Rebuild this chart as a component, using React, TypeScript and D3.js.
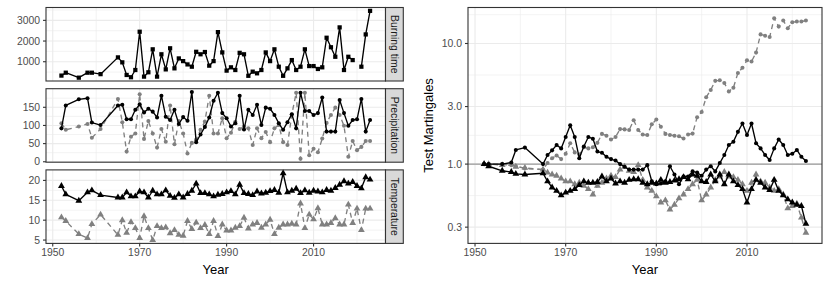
import * as d3 from "d3";

// observation years (early record is sparse)
const years = [
  1952, 1953, 1956, 1958, 1959, 1961, 1965, 1966, 1967, 1968, 1969,
  1970, 1971, 1972, 1973, 1974, 1975, 1976, 1977, 1978, 1979,
  1980, 1981, 1982, 1983, 1984, 1985, 1986, 1987, 1988, 1989,
  1990, 1991, 1992, 1993, 1994, 1995, 1996, 1997, 1998, 1999,
  2000, 2001, 2002, 2003, 2004, 2005, 2006, 2007, 2008, 2009,
  2010, 2011, 2012, 2013, 2014, 2015, 2016, 2017, 2018, 2019,
  2020, 2021, 2022, 2023,
];

const burningTime = [
  330, 470, 230, 470, 470, 400, 1210, 970, 360, 250, 600,
  2450, 280, 490, 1600, 280, 1360, 630, 1650, 680, 1160,
  1030, 870, 760, 1480, 1360, 1470, 810, 1030, 2430, 1450,
  570, 730, 600, 1430, 1360, 320, 520, 440, 600, 1450,
  1030, 1600, 760, 320, 680, 1080, 600, 760, 1600, 790,
  790, 650, 730, 2160, 1700, 1240, 2660, 600, 1240, 1080,
  null, 760, 2320, 3460,
];

const precipBlack = [
  92, 155, 172, 175, 108, 101, 155, 157, 117, 117, 143,
  158, 136, 146, 138, 122, 182, 124, 115, 143, 104,
  123, 113, 192, 54, 75, 96, 122, 168, 190, 134,
  120, 97, 106, 182, 89, 143, 129, 157, 101, 149,
  146, 129, 106, 88, 109, 131, 92, 190, 140, 140,
  129, 134, 177, 83, 83, 83, 170, 134, 99, 115,
  117, 173, 83, 115,
];

const precipGray = [
  106, 88, 97, 104, 66, 90, 173, 109, 28, 69, 78,
  186, 63, 112, 78, 39, 90, 55, 155, 48, 112,
  78, 23, 52, 61, 88, 111, 182, 78, 78, 120,
  65, 80, 110, 90, 97, 92, 46, 92, 65, 82,
  54, 92, 101, 54, 46, 130, 190, 8, 190, 18,
  36, 26, 64, 107, 129, 149, 129, 99, 14, 57,
  32, 41, 57, 57,
];

const tempBlack = [
  18.6, 16.5, 14.9, 17.0, 17.5, 16.3, 15.7, 15.7, 17.0, 16.0, 16.0,
  17.2, 17.0, 15.7, 17.4, 16.5, 16.5, 17.5, 16.1, 15.6, 16.5,
  15.7, 16.6, 17.4, 19.2, 16.8, 16.8, 16.5, 16.0, 16.4, 16.6,
  17.0, 17.3, 16.5, 18.9, 16.8, 16.6, 16.3, 17.2, 16.7, 16.9,
  17.3, 17.6, 16.9, 21.8, 17.0, 17.4, 17.9, 16.8, 17.5, 16.9,
  17.4, 17.2, 17.0, 17.6, 17.4, 18.1, 18.9, 19.8, 19.2, 19.6,
  18.6, 18.0, 20.8, 20.2,
];

const tempGray = [
  10.7, 9.8, 6.5, 5.5, 9.0, 11.4, 6.3, 10.0, 6.8, 9.5, 8.0,
  5.5, 11.0, 8.0, 5.0, 8.5, 8.0, 8.2, 6.7, 7.5, 6.3,
  6.1, 9.8, 7.8, 9.4, 8.0, 8.8, 6.5, 9.8, 6.0, 8.9,
  7.4, 7.4, 8.1, 8.5, 10.6, 7.9, 8.9, 9.3, 8.1, 8.9,
  10.1, 6.5, 8.1, 8.9, 8.9, 9.1, 8.9, 14.2, 8.0, 11.4,
  10.2, 13.0, 8.9, 8.9, 9.3, 10.5, 8.9, 8.9, 13.9, 9.3,
  12.9, 7.5, 12.9, 12.9,
];

// test martingales
const mgPrecipBlack = [
  1.0, 1.0, 1.0, 1.03, 1.31, 1.37, 1.0, 1.19, 1.3, 1.44, 1.35,
  1.68, 2.1, 1.68, 1.12, 1.4, 1.68, 1.62, 1.27, 1.24, 1.15,
  1.1, 1.07, 1.0, 0.95, 0.9, 0.9, 0.9, 0.9, 0.98, 0.72,
  0.68, 0.69, 0.72, 0.96, 0.82, 0.68, 0.79, 0.79, 0.87, 0.85,
  0.8, 0.9, 0.96, 0.87, 1.02, 1.19, 1.44, 1.53, 1.85, 2.17,
  1.74, 2.17, 1.49, 1.35, 1.19, 1.08, 1.35, 1.6, 1.44, 1.19,
  1.22, 1.31, 1.15, 1.06,
];

const mgTempBlack = [
  1.0, 0.96, 0.88, 0.86, 0.83, 0.82, 0.84, 0.72, 0.64, 0.6, 0.55,
  0.58, 0.6, 0.62, 0.67, 0.72, 0.7, 0.7, 0.71, 0.79, 0.72,
  0.76, 0.69, 0.72, 0.7, 0.74, 0.75, 0.75, 0.7, 0.68, 0.7,
  0.69, 0.74, 0.7, 0.71, 0.73, 0.75, 0.78, 0.75, 0.82, 0.8,
  0.72, 0.71, 0.82, 0.72, 0.82, 0.68, 0.82, 0.72, 0.67, 0.62,
  0.48, 0.62, 0.74, 0.7, 0.64, 0.61, 0.74, 0.6, 0.55, 0.51,
  0.48, 0.46, 0.45, 0.32,
];

const mgPrecipGray = [
  1.0, 1.0, 1.0, 0.98, 0.96, 0.92, 0.9, 1.02, 1.12, 1.18, 1.1,
  1.22, 1.49, 1.25, 1.2, 1.38, 1.35, 1.38, 1.5, 1.78, 1.72,
  1.6, 1.68, 1.95, 1.94, 1.92, 2.31, 1.92, 1.76, 1.74, 2.14,
  2.34, 2.04, 1.78, 1.74, 1.72, 1.7, 1.63, 1.76, 1.79, 2.45,
  2.7, 3.58, 4.12, 4.9, 4.95, 4.7, 4.0, 4.3, 5.7, 6.3,
  7.25, 7.1, 8.4, 11.9, 11.6, 11.3, 16.2, 13.8, 15.5, 13.4,
  15.0, 15.2, 15.2, 15.5,
];

const mgTempGray = [
  1.0, 1.0, 0.98, 1.0, 0.95, 0.93, 0.9, 0.85, 0.82, 0.8, 0.76,
  0.72, 0.72, 0.68, 0.7, 0.66, 0.62, 0.56, 0.66, 0.7, 0.76,
  0.8, 0.78, 0.9, 0.95, 0.88, 0.86, 0.98, 0.74, 0.64, 0.6,
  0.54, 0.48, 0.5, 0.42, 0.46, 0.52, 0.56, 0.62, 0.68, 0.74,
  0.5, 0.56, 0.64, 0.74, 0.79, 0.86, 0.79, 0.78, 0.74, 0.68,
  0.6, 0.7, 0.82, 0.72, 0.7, 0.64, 0.6, 0.62, 0.56, 0.43,
  0.45, 0.47, 0.36, 0.27,
];

const xTicks = [1950, 1970, 1990, 2010];
const xMinor = [1960, 1980, 2000, 2020];
const mgTicks = [0.3, 1, 3, 10];

const FONT = "'Liberation Sans', Arial, Helvetica, sans-serif";
const BLACK = "#000000";
const GRAY = "#808080";
const GRID = "#EBEBEB";
const BORDER = "#333333";
const TICKTXT = "#4D4D4D";

const expand = (lo: number, hi: number): [number, number] => {
  const d = (hi - lo) * 0.05;
  return [lo - d, hi + d];
};

type Shape = "square" | "circle" | "triangle";
const symbols: Record<Shape, string> = {
  square: d3.symbol().type(d3.symbolSquare).size(18)() as string,
  circle: d3.symbol().type(d3.symbolCircle).size(13)() as string,
  triangle: d3.symbol().type(d3.symbolTriangle).size(20)() as string,
};

function Series(props: {
  x: (v: number) => number;
  y: (v: number) => number;
  vals: (number | null)[];
  color: string;
  dashed?: boolean;
  shape: Shape;
}) {
  const { x, y, vals, color, dashed, shape } = props;
  const data = years.map((yr, i) => [yr, vals[i]] as [number, number | null]);
  const line = d3
    .line<[number, number | null]>()
    .defined((d) => d[1] != null)
    .x((d) => x(d[0]))
    .y((d) => y(d[1] as number));
  return (
    <g>
      <path
        d={line(data) || ""}
        fill="none"
        stroke={color}
        strokeWidth={1.35}
        strokeDasharray={dashed ? "5,4" : undefined}
        strokeLinejoin="round"
      />
      {data
        .filter((d) => d[1] != null)
        .map((d, i) => (
          <path
            key={i}
            d={symbols[shape]}
            fill={color}
            transform={`translate(${x(d[0])},${y(d[1] as number)})`}
          />
        ))}
    </g>
  );
}

export default function App() {
  const W = 830;
  const H = 286;
  const left: [number, number] = [46, 385.5];
  const right: [number, number] = [468, 822];
  const stripW = 17.8;
  const facetTop = 7.5;
  const facetH = 73.5;
  const facetGap = 7.7;
  const bottom = facetTop + 3 * facetH + 2 * facetGap;

  const xDom = expand(d3.min(years)!, d3.max(years)!);
  const xL = d3.scaleLinear().domain(xDom).range(left);
  const xR = d3.scaleLinear().domain(xDom).range(right);

  const ext = (arrs: (number | null)[][]) => {
    const all = arrs.flat().filter((v) => v != null) as number[];
    return expand(d3.min(all)!, d3.max(all)!);
  };

  const facets = [
    {
      label: "Burning time",
      domain: ext([burningTime]),
      ticks: [1000, 2000, 3000],
      minor: [500, 1500, 2500, 3500],
      series: [{ vals: burningTime, color: BLACK, dashed: false, shape: "square" as Shape }],
    },
    {
      label: "Precipitation",
      domain: ext([precipBlack, precipGray]),
      ticks: [0, 50, 100, 150],
      minor: [25, 75, 125, 175],
      series: [
        { vals: precipGray, color: GRAY, dashed: true, shape: "circle" as Shape },
        { vals: precipBlack, color: BLACK, dashed: false, shape: "circle" as Shape },
      ],
    },
    {
      label: "Temperature",
      domain: ext([tempBlack, tempGray]),
      ticks: [5, 10, 15, 20],
      minor: [7.5, 12.5, 17.5],
      series: [
        { vals: tempGray, color: GRAY, dashed: true, shape: "triangle" as Shape },
        { vals: tempBlack, color: BLACK, dashed: false, shape: "triangle" as Shape },
      ],
    },
  ];

  // log scale for martingales
  const mgAll = [mgPrecipBlack, mgTempBlack, mgPrecipGray, mgTempGray].flat();
  const lgDom = expand(Math.log10(d3.min(mgAll)!), Math.log10(d3.max(mgAll)!));
  const yM = d3
    .scaleLog()
    .domain([Math.pow(10, lgDom[0]), Math.pow(10, lgDom[1])])
    .range([bottom, facetTop]);
  // minor breaks halfway (in log space) between the major ones
  const logTicks = [...mgTicks, 30].map(Math.log10);
  const mgMinor = logTicks.slice(0, -1).map((t, i) => Math.pow(10, (t + logTicks[i + 1]) / 2));

  return (
    <svg
      width={W}
      height={H}
      style={{ position: "absolute", left: 0, top: 0, background: "#fff" }}
      fontFamily={FONT}
    >
      <rect width={W} height={H} fill="#fff" />

      {/* left: facetted series */}
      {facets.map((f, fi) => {
        const top = facetTop + fi * (facetH + facetGap);
        const y = d3.scaleLinear().domain(f.domain).range([top + facetH, top]);
        return (
          <g key={f.label}>
            <rect x={left[0]} y={top} width={left[1] - left[0]} height={facetH} fill="#fff" />
            {f.minor.map((t) => (
              <line key={"hm" + t} x1={left[0]} x2={left[1]} y1={y(t)} y2={y(t)} stroke={GRID} strokeWidth={0.6} />
            ))}
            {xMinor.map((t) => (
              <line key={"vm" + t} x1={xL(t)} x2={xL(t)} y1={top} y2={top + facetH} stroke={GRID} strokeWidth={0.6} />
            ))}
            {f.ticks.map((t) => (
              <line key={"h" + t} x1={left[0]} x2={left[1]} y1={y(t)} y2={y(t)} stroke={GRID} strokeWidth={1.1} />
            ))}
            {xTicks.map((t) => (
              <line key={"v" + t} x1={xL(t)} x2={xL(t)} y1={top} y2={top + facetH} stroke={GRID} strokeWidth={1.1} />
            ))}
            {f.series.map((s, si) => (
              <Series key={si} x={xL} y={y} vals={s.vals} color={s.color} dashed={s.dashed} shape={s.shape} />
            ))}
            <rect x={left[0]} y={top} width={left[1] - left[0]} height={facetH} fill="none" stroke={BORDER} strokeWidth={1.1} />
            {f.ticks.map((t) => (
              <g key={"t" + t}>
                <line x1={left[0] - 3} x2={left[0]} y1={y(t)} y2={y(t)} stroke={BORDER} strokeWidth={1.1} />
                <text x={left[0] - 6} y={y(t)} dy="0.35em" textAnchor="end" fontSize={10.4} fill={TICKTXT}>
                  {t}
                </text>
              </g>
            ))}
            <rect x={left[1]} y={top} width={stripW} height={facetH} fill="#D9D9D9" stroke={BORDER} strokeWidth={1.1} />
            <text
              transform={`translate(${left[1] + stripW / 2},${top + facetH / 2}) rotate(90)`}
              textAnchor="middle"
              dy="0.35em"
              fontSize={10.4}
              fill="#1A1A1A"
            >
              {f.label}
            </text>
          </g>
        );
      })}
      {xTicks.map((t) => (
        <g key={"xl" + t}>
          <line x1={xL(t)} x2={xL(t)} y1={bottom} y2={bottom + 3} stroke={BORDER} strokeWidth={1.1} />
          <text x={xL(t)} y={bottom + 12.8} textAnchor="middle" fontSize={10.4} fill={TICKTXT}>
            {t}
          </text>
        </g>
      ))}
      <text x={(left[0] + left[1]) / 2} y={274} textAnchor="middle" fontSize={13} fill="#000">
        Year
      </text>

      {/* right: test martingales */}
      <g>
        {mgMinor.map((t, i) => (
          <line key={"mm" + i} x1={right[0]} x2={right[1]} y1={yM(t)} y2={yM(t)} stroke={GRID} strokeWidth={0.6} />
        ))}
        {xMinor.map((t) => (
          <line key={"mvm" + t} x1={xR(t)} x2={xR(t)} y1={facetTop} y2={bottom} stroke={GRID} strokeWidth={0.6} />
        ))}
        {mgTicks.map((t) => (
          <line key={"mh" + t} x1={right[0]} x2={right[1]} y1={yM(t)} y2={yM(t)} stroke={GRID} strokeWidth={1.1} />
        ))}
        {xTicks.map((t) => (
          <line key={"mv" + t} x1={xR(t)} x2={xR(t)} y1={facetTop} y2={bottom} stroke={GRID} strokeWidth={1.1} />
        ))}
        <line x1={right[0]} x2={right[1]} y1={yM(1)} y2={yM(1)} stroke="#999999" strokeWidth={1.4} />
        <Series x={xR} y={yM} vals={mgTempGray} color={GRAY} dashed shape="triangle" />
        <Series x={xR} y={yM} vals={mgPrecipGray} color={GRAY} dashed shape="circle" />
        <Series x={xR} y={yM} vals={mgTempBlack} color={BLACK} shape="triangle" />
        <Series x={xR} y={yM} vals={mgPrecipBlack} color={BLACK} shape="circle" />
        <rect x={right[0]} y={facetTop} width={right[1] - right[0]} height={bottom - facetTop} fill="none" stroke={BORDER} strokeWidth={1.1} />
        {mgTicks.map((t) => (
          <g key={"mt" + t}>
            <line x1={right[0] - 3} x2={right[0]} y1={yM(t)} y2={yM(t)} stroke={BORDER} strokeWidth={1.1} />
            <text x={right[0] - 6} y={yM(t)} dy="0.35em" textAnchor="end" fontSize={10.4} fill={TICKTXT}>
              {d3.format(".1f")(t)}
            </text>
          </g>
        ))}
        {xTicks.map((t) => (
          <g key={"mx" + t}>
            <line x1={xR(t)} x2={xR(t)} y1={bottom} y2={bottom + 3} stroke={BORDER} strokeWidth={1.1} />
            <text x={xR(t)} y={bottom + 12.8} textAnchor="middle" fontSize={10.4} fill={TICKTXT}>
              {t}
            </text>
          </g>
        ))}
        <text x={(right[0] + right[1]) / 2} y={274} textAnchor="middle" fontSize={13} fill="#000">
          Year
        </text>
        <text
          transform={`translate(432.5,${(facetTop + bottom) / 2}) rotate(-90)`}
          textAnchor="middle"
          fontSize={13}
          fill="#000"
        >
          Test Martingales
        </text>
      </g>
    </svg>
  );
}
